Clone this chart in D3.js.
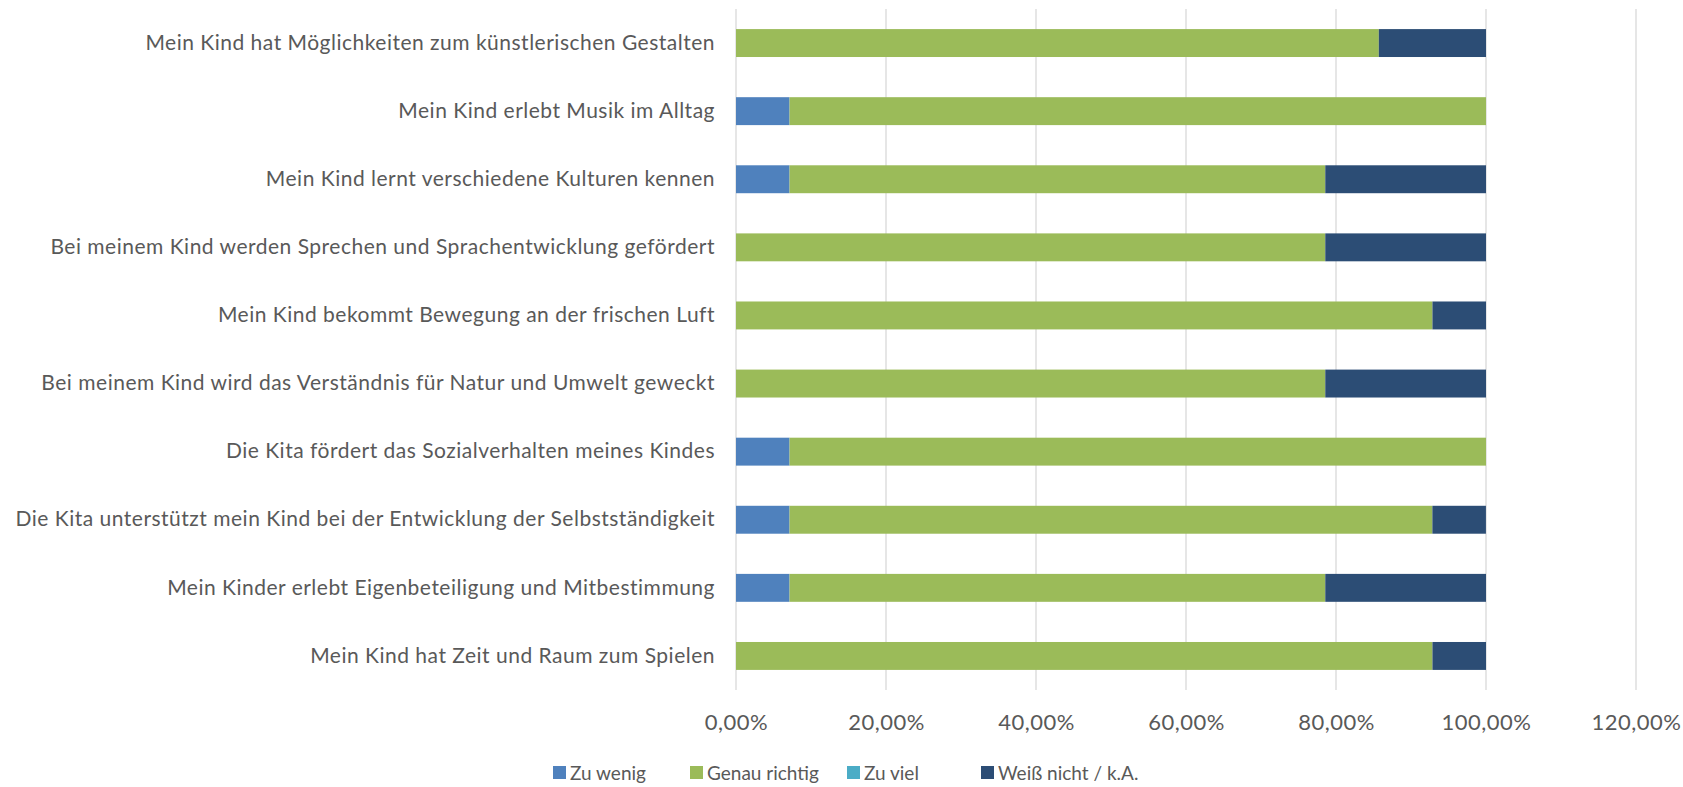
<!DOCTYPE html>
<html><head><meta charset="utf-8">
<script src="https://cdn.jsdelivr.net/npm/d3@7"></script>
<style>body{margin:0;background:#fff;}svg{display:block;}text{font-family:"Lato",sans-serif;fill:#595959;}</style>
</head><body><svg id="c" width="1683" height="787"></svg>
<script>
const categories = [
  "Mein Kind hat Möglichkeiten zum künstlerischen Gestalten",
  "Mein Kind erlebt Musik im Alltag",
  "Mein Kind lernt verschiedene Kulturen kennen",
  "Bei meinem Kind werden Sprechen und Sprachentwicklung gefördert",
  "Mein Kind bekommt Bewegung an der frischen Luft",
  "Bei meinem Kind wird das Verständnis für Natur und Umwelt geweckt",
  "Die Kita fördert das Sozialverhalten meines Kindes",
  "Die Kita unterstützt mein Kind bei der Entwicklung der Selbstständigkeit",
  "Mein Kinder erlebt Eigenbeteiligung und Mitbestimmung",
  "Mein Kind hat Zeit und Raum zum Spielen"
];
const seriesNames = ["Zu wenig", "Genau richtig", "Zu viel", "Weiß nicht / k.A."];
const zuWenig      = [0, 7.14, 7.14, 0, 0, 0, 7.14, 7.14, 7.14, 0];
const genauRichtig = [85.71, 92.86, 71.43, 78.57, 92.86, 78.57, 92.86, 85.71, 71.43, 92.86];
const zuViel       = [0, 0, 0, 0, 0, 0, 0, 0, 0, 0];
const weissNicht   = [14.29, 0, 21.43, 21.43, 7.14, 21.43, 0, 7.14, 21.43, 7.14];
const tickValues = [0, 20, 40, 60, 80, 100, 120];
const colors = ["#4F81BD", "#9BBB59", "#4BACC6", "#2C4D75"];

const seriesValues = [zuWenig, genauRichtig, zuViel, weissNicht];
const rows = categories.map((c, i) => {
  const r = {cat: c};
  seriesNames.forEach((s, j) => r[s] = seriesValues[j][i]);
  return r;
});
const stacked = d3.stack().keys(seriesNames)(rows);

const svg = d3.select("#c");
const x = d3.scaleLinear().domain([0, 120]).range([736, 1636]);
const y = d3.scaleBand().domain(categories).range([9, 690]).paddingInner(0.59).paddingOuter(0.295);

// gridlines
svg.append("g").selectAll("line").data(tickValues).join("line")
  .attr("x1", d => x(d)).attr("x2", d => x(d))
  .attr("y1", 9).attr("y2", 690)
  .attr("stroke", "#d9d9d9").attr("stroke-width", 1.3);

// bars
svg.append("g").selectAll("g").data(stacked).join("g")
  .attr("fill", (d, i) => colors[i])
  .selectAll("rect").data(d => d).join("rect")
  .attr("x", d => x(d[0]))
  .attr("y", d => y(d.data.cat))
  .attr("width", d => x(d[1]) - x(d[0]))
  .attr("height", y.bandwidth());

// x axis
const fmt = d => d.toFixed(2).replace(".", ",") + "%";
const xAxis = svg.append("g").attr("transform", "translate(0,690)")
  .call(d3.axisBottom(x).tickValues(tickValues).tickFormat(fmt).tickSize(0).tickPadding(24));
xAxis.select(".domain").remove();
xAxis.selectAll("text").attr("font-size", 22).attr("letter-spacing", "0.5px")
  .style("font-family", '"Lato",sans-serif').attr("fill", "#595959");

// y axis labels
const yAxis = svg.append("g").attr("transform", "translate(736,0)")
  .call(d3.axisLeft(y).tickSize(0).tickPadding(21));
yAxis.select(".domain").remove();
yAxis.selectAll("text").attr("font-size", 21).attr("letter-spacing", "0.5px")
  .style("font-family", '"Lato",sans-serif').attr("fill", "#595959");

// legend
const legendX = [553, 690, 847, 981];
const lg = svg.append("g").selectAll("g").data(seriesNames).join("g")
  .attr("transform", (d, i) => `translate(${legendX[i]},766)`);
lg.append("rect").attr("width", 13).attr("height", 13).attr("fill", (d, i) => colors[i]);
lg.append("text").attr("x", 17).attr("y", 7).attr("dy", "0.35em").attr("font-size", 19).text(d => d);
</script></body></html>
